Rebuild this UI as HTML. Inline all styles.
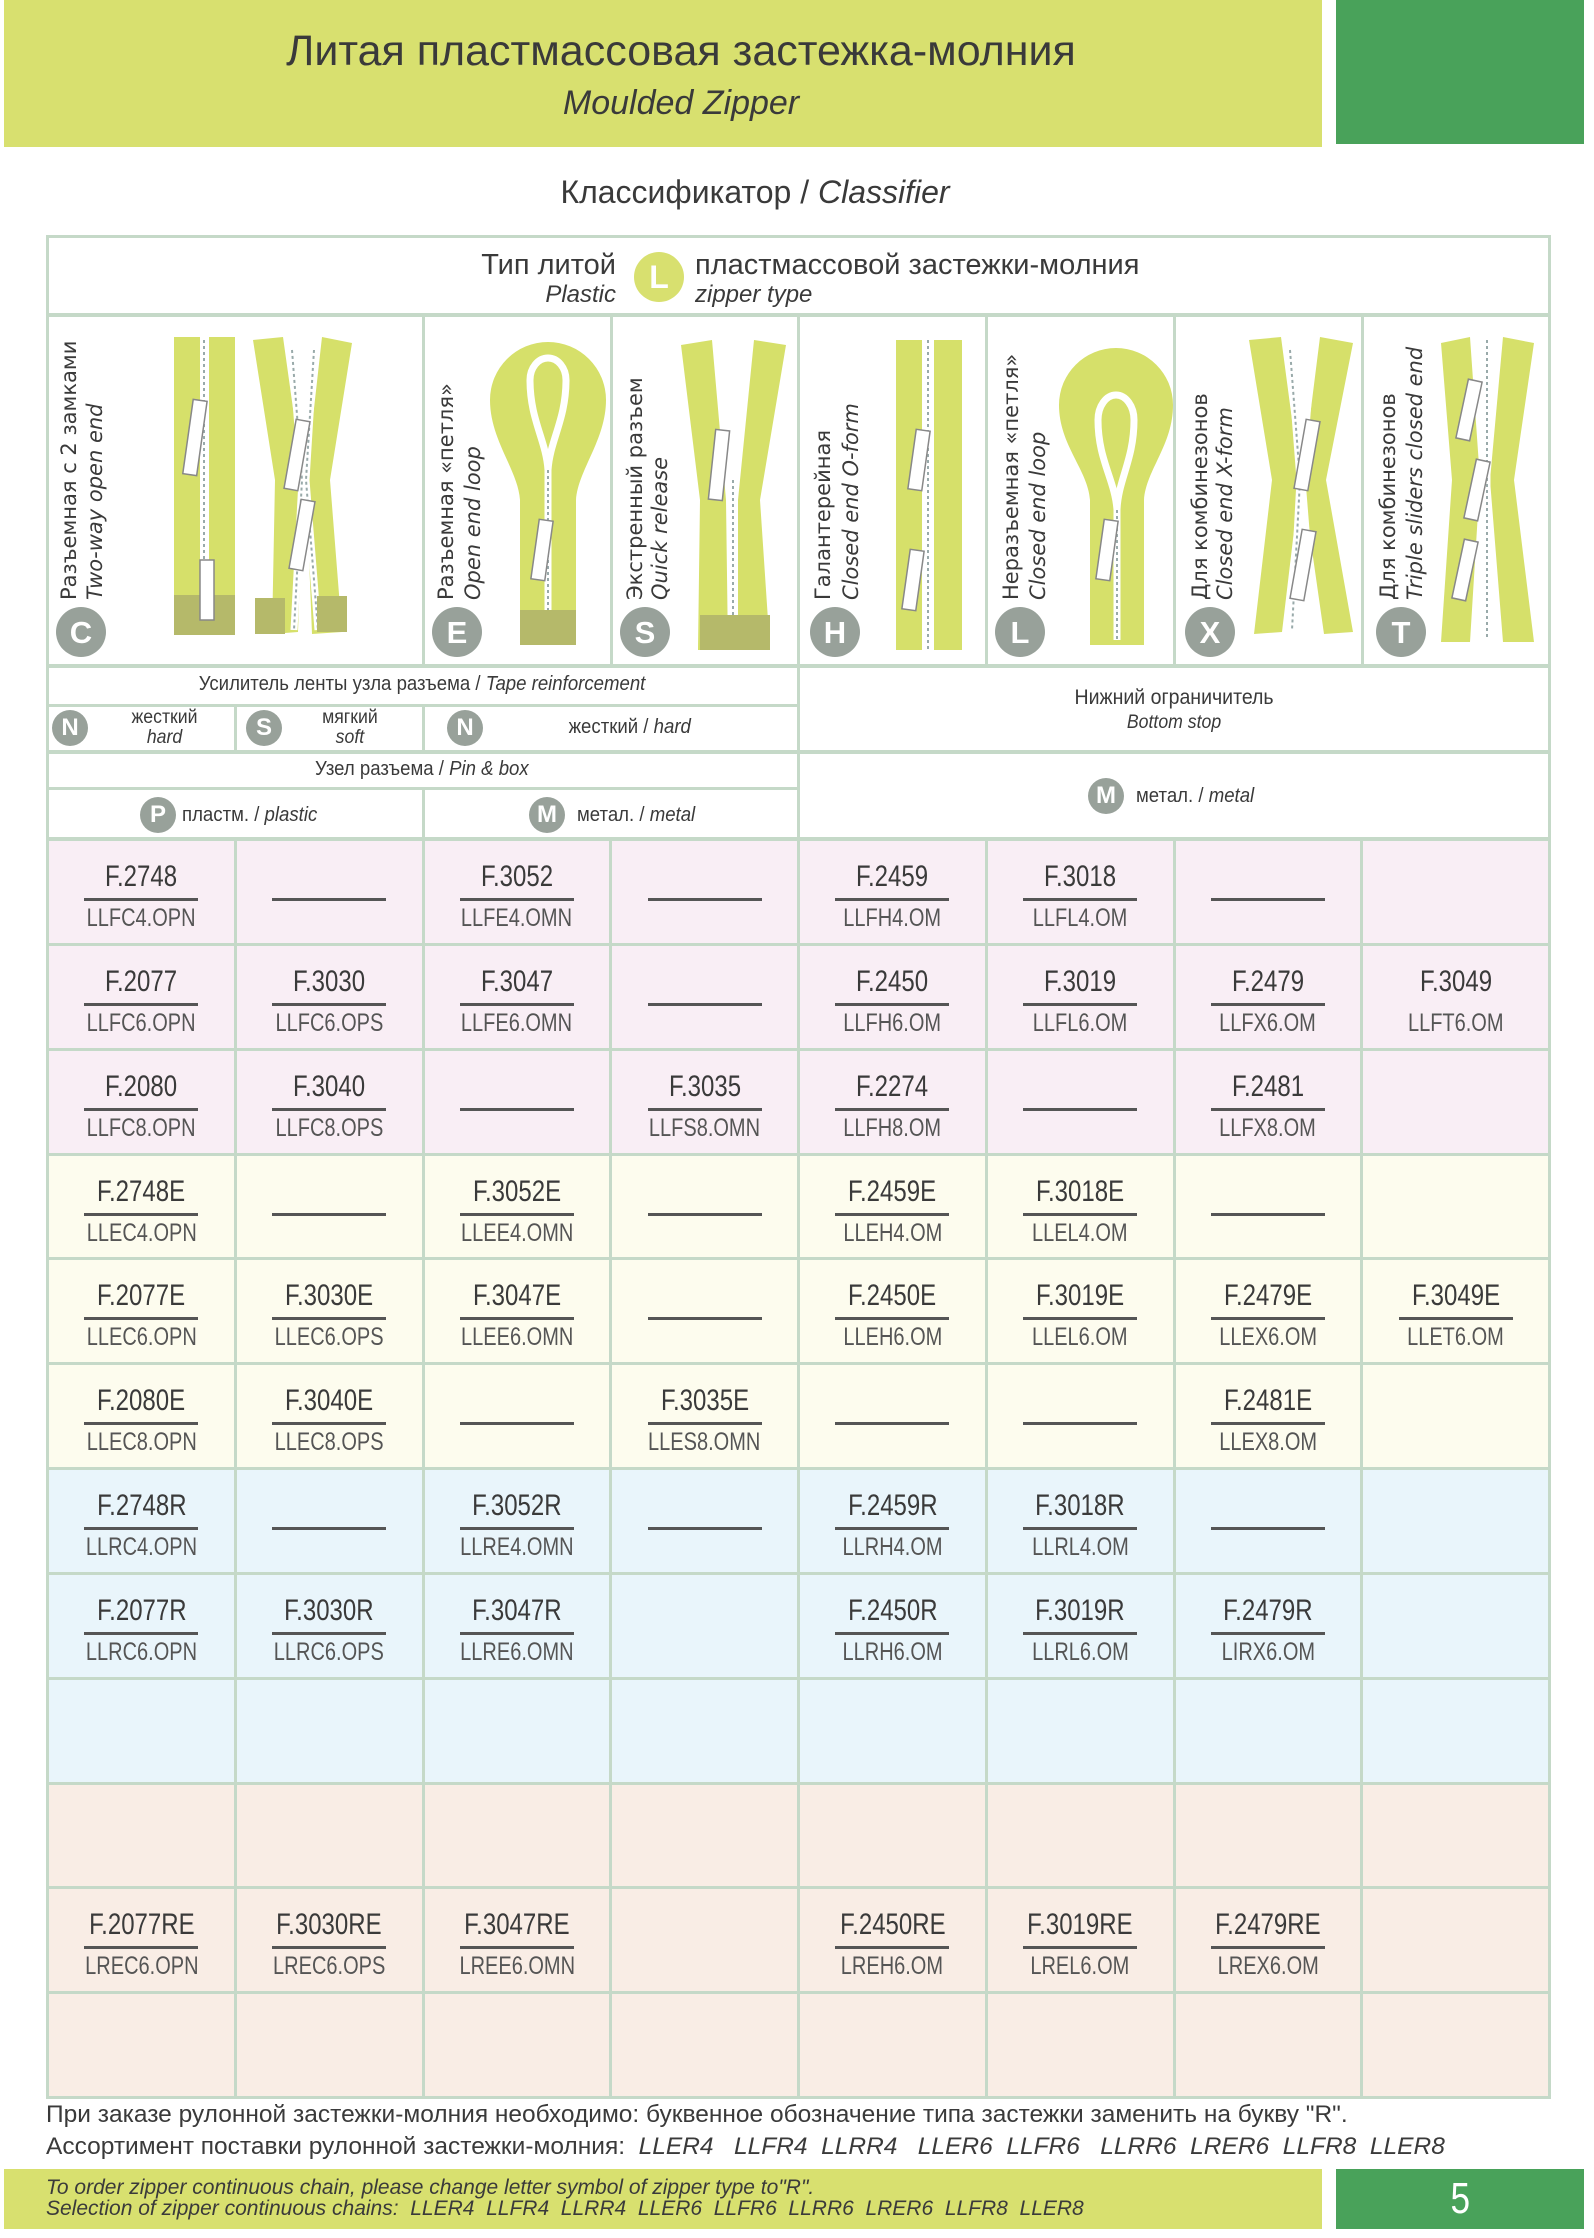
<!DOCTYPE html>
<html><head><meta charset="utf-8">
<style>
*{margin:0;padding:0;box-sizing:border-box}
body{width:1594px;height:2238px;background:#fff;position:relative;overflow:hidden;font-family:"Liberation Sans","DejaVu Sans",sans-serif;color:#3a3a3a}
.a{position:absolute}
.c{display:inline-block;transform:scaleX(.8);transform-origin:center;white-space:nowrap}
.d{display:inline-block;transform:scaleX(.93);transform-origin:center;white-space:nowrap}
.ln{position:absolute;background:#c5d9c8}
.grid{position:absolute;left:46px;top:838px;width:1505px;height:1261px;background:#c5d9c8;display:grid;grid-template-columns:repeat(8,1fr);grid-template-rows:repeat(12,1fr);gap:3px;padding:3px}
.grid>div{position:relative}
.p{background:#f9eef5}.y{background:#fdfcee}.b{background:#e9f5fb}.o{background:#f9ede5}
.k{position:absolute;left:0;right:0;top:20px;text-align:center;font-size:30px;line-height:32px}
.s{position:absolute;left:0;right:0;top:63px;text-align:center;font-size:25px;line-height:28px;color:#555}
.u{position:absolute;left:50%;margin-left:-57px;width:114px;height:3px;top:57px;background:#555}
.badge{position:absolute;width:36px;height:36px;border-radius:50%;background:#98a19a;color:#fff;font-weight:bold;font-size:24px;line-height:36px;text-align:center}
.t{position:absolute;text-align:center;white-space:nowrap}
</style></head><body>
<div class="a" style="left:4px;top:0;width:1318px;height:147px;background:#d8e06f"></div>
<div class="a" style="left:1336px;top:0;width:248px;height:144px;background:#49a25a"></div>
<div class="t" style="left:4px;width:1354px;top:27px;font-size:43px">Литая пластмассовая застежка-молния</div>
<div class="t" style="left:4px;width:1354px;top:84px;font-size:34px;font-style:italic">Moulded Zipper</div>
<div class="t" style="left:46px;width:1418px;top:174px;font-size:32px">Классификатор / <i>Classifier</i></div>

<div class="a" style="left:46px;top:235px;width:1505px;height:605px;border:3px solid #c5d9c8"></div>
<div class="ln" style="left:46px;top:313px;width:1505px;height:4px"></div>
<div class="ln" style="left:46px;top:664px;width:1505px;height:4px"></div>
<div class="ln" style="left:46px;top:704px;width:752px;height:3px"></div>
<div class="ln" style="left:46px;top:750px;width:1505px;height:4px"></div>
<div class="ln" style="left:46px;top:787px;width:752px;height:3px"></div>
<div class="ln" style="left:422px;top:315px;width:3px;height:351px"></div>
<div class="ln" style="left:610px;top:315px;width:3px;height:351px"></div>
<div class="ln" style="left:797px;top:315px;width:3px;height:525px"></div>
<div class="ln" style="left:985px;top:315px;width:3px;height:351px"></div>
<div class="ln" style="left:1173px;top:315px;width:3px;height:351px"></div>
<div class="ln" style="left:1361px;top:315px;width:3px;height:351px"></div>
<div class="ln" style="left:234px;top:705px;width:3px;height:46px"></div>
<div class="ln" style="left:422px;top:705px;width:3px;height:46px"></div>
<div class="ln" style="left:422px;top:788px;width:3px;height:52px"></div>

<div class="a" style="left:300px;width:316px;top:249px;font-size:29px;text-align:right">Тип литой</div>
<div class="a" style="left:300px;width:316px;top:281px;font-size:24px;font-style:italic;text-align:right">Plastic</div>
<div class="a" style="left:634px;top:252px;width:50px;height:50px;border-radius:50%;background:#d8e06f;color:#fff;font-weight:bold;font-size:32px;line-height:50px;text-align:center">L</div>
<div class="a" style="left:695px;top:249px;font-size:29px;white-space:nowrap">пластмассовой застежки-молния</div>
<div class="a" style="left:695px;top:281px;font-size:24px;font-style:italic">zipper type</div>

<svg class="a" style="left:0;top:0" width="1594" height="2238">
<g fill="#d6e06a">
<rect x="174" y="337" width="26" height="298"/><rect x="209" y="337" width="26" height="298"/>
<polygon points="253,340 283,337 303,480 298,632 272,634 275,480"/>
<polygon points="322,337 352,343 330,480 342,632 312,634 306,480"/>
<path d="M490,400 A58,58 0 0 1 606,400 C606,440 578,470 576,500 L576,645 L520,645 L520,500 C518,470 490,440 490,400 Z"/>
<polygon points="681,345 712,340 726,500 728,650 698,650 700,500"/>
<polygon points="754,340 786,345 760,500 770,650 738,650 738,500"/>
<rect x="896" y="340" width="26" height="310"/><rect x="934" y="340" width="28" height="310"/>
<path d="M1059,405 A57,57 0 0 1 1173,405 C1173,445 1146,470 1144,500 L1144,645 L1090,645 L1090,500 C1088,470 1059,445 1059,405 Z"/>
<polygon points="1249,340 1281,337 1300,480 1282,632 1254,634 1272,480"/>
<polygon points="1320,337 1353,343 1326,480 1353,632 1324,634 1302,480"/>
<polygon points="1441,343 1470,337 1480,480 1470,642 1441,642 1452,480"/>
<polygon points="1503,337 1534,343 1514,480 1534,642 1503,642 1490,480"/>
</g>
<g stroke="#fff" stroke-width="7" fill="none">
<line x1="204" y1="340" x2="204" y2="630"/><path d="M292,350 L302,480 L294,630"/><path d="M314,350 L306,480 L318,630"/>
<path d="M530,380 A18,22 0 0 1 566,380 C566,420 550,440 548,470 L548,640"/>
<path d="M530,380 C530,420 546,440 548,470"/>
<path d="M740,350 L733,480 L733,650"/>
<line x1="928" y1="340" x2="928" y2="650"/>
<path d="M1098,420 A18,25 0 0 1 1134,420 C1134,460 1118,480 1117,510 L1117,640"/><path d="M1098,420 C1098,460 1115,480 1117,510"/>
<path d="M1290,350 L1300,480 L1292,630"/><path d="M1312,350 L1302,480 L1314,630"/>
<line x1="1487" y1="340" x2="1487" y2="640"/>
</g>
<g stroke="#9aa" stroke-width="2" stroke-dasharray="3,3" fill="none">
<line x1="204" y1="340" x2="204" y2="630"/><path d="M292,350 L302,480 L294,630"/><path d="M314,350 L306,480 L318,630"/>
<line x1="548" y1="470" x2="548" y2="640"/><line x1="733" y1="480" x2="733" y2="650"/>
<line x1="928" y1="340" x2="928" y2="650"/><line x1="1117" y1="510" x2="1117" y2="640"/>
<path d="M1290,350 L1300,480 L1292,630"/><path d="M1487,340 L1487,640"/>
</g>
<g fill="#b5b96a"><rect x="174" y="595" width="61" height="40"/><rect x="255" y="598" width="30" height="36"/><rect x="317" y="596" width="30" height="36"/><rect x="520" y="610" width="56" height="35"/><rect x="700" y="615" width="70" height="35"/></g>
<g fill="#fff" stroke="#888" stroke-width="1.5">
<rect x="188" y="400" width="14" height="75" transform="rotate(8 195 437)"/><rect x="200" y="560" width="14" height="60"/>
<rect x="290" y="420" width="14" height="70" transform="rotate(10 297 455)"/><rect x="295" y="500" width="14" height="70" transform="rotate(10 302 535)"/>
<rect x="535" y="520" width="14" height="60" transform="rotate(8 542 550)"/><rect x="712" y="430" width="14" height="70" transform="rotate(6 719 465)"/>
<rect x="912" y="430" width="14" height="60" transform="rotate(8 919 460)"/><rect x="906" y="550" width="14" height="60" transform="rotate(8 913 580)"/>
<rect x="1100" y="520" width="14" height="60" transform="rotate(8 1107 550)"/><rect x="1300" y="420" width="14" height="70" transform="rotate(10 1307 455)"/><rect x="1296" y="530" width="14" height="70" transform="rotate(10 1303 565)"/>
<rect x="1462" y="380" width="14" height="60" transform="rotate(12 1469 410)"/><rect x="1470" y="460" width="14" height="60" transform="rotate(12 1477 490)"/><rect x="1458" y="540" width="14" height="60" transform="rotate(12 1465 570)"/>
</g>
<g font-family="DejaVu Sans" font-size="21" fill="#3a3a3a">
<text transform="translate(76,600) rotate(-90)">Разъемная с 2 замками</text><text font-style="italic" transform="translate(102,600) rotate(-90)">Two-way open end</text>
<text transform="translate(453,600) rotate(-90)">Разъемная «петля»</text><text font-style="italic" transform="translate(480,600) rotate(-90)">Open end loop</text>
<text transform="translate(642,600) rotate(-90)">Экстренный разъем</text><text font-style="italic" transform="translate(667,600) rotate(-90)">Quick release</text>
<text transform="translate(830,600) rotate(-90)">Галантерейная</text><text font-style="italic" transform="translate(858,600) rotate(-90)">Closed end O-form</text>
<text transform="translate(1018,600) rotate(-90)">Неразъемная «петля»</text><text font-style="italic" transform="translate(1045,600) rotate(-90)">Closed end loop</text>
<text transform="translate(1207,600) rotate(-90)">Для комбинезонов</text><text font-style="italic" transform="translate(1232,600) rotate(-90)">Closed end X-form</text>
<text transform="translate(1395,600) rotate(-90)">Для комбинезонов</text><text font-style="italic" transform="translate(1422,600) rotate(-90)">Triple sliders closed end</text>
</g>
<g fill="#98a19a"><circle cx="81" cy="632" r="25"/><circle cx="457" cy="632" r="25"/><circle cx="645" cy="632" r="25"/><circle cx="835" cy="632" r="25"/><circle cx="1020" cy="632" r="25"/><circle cx="1210" cy="632" r="25"/><circle cx="1401" cy="632" r="25"/></g>
<g fill="#fff" font-family="Liberation Sans" font-weight="bold" font-size="31" text-anchor="middle">
<text x="81" y="643">C</text><text x="457" y="643">E</text><text x="645" y="643">S</text><text x="835" y="643">H</text><text x="1020" y="643">L</text><text x="1210" y="643">X</text><text x="1401" y="643">T</text></g>
</svg>

<div class="t" style="left:46px;width:752px;top:673px;font-size:20px"><span class="d">Усилитель ленты узла разъема / <i>Tape reinforcement</i></span></div>
<div class="badge" style="left:52px;top:710px">N</div>
<div class="t" style="left:120px;width:90px;top:708px;font-size:19px;line-height:20px"><span class="d">жесткий<br><i>hard</i></span></div>
<div class="badge" style="left:246px;top:710px">S</div>
<div class="t" style="left:305px;width:90px;top:708px;font-size:19px;line-height:20px"><span class="d">мягкий<br><i>soft</i></span></div>
<div class="badge" style="left:447px;top:710px">N</div>
<div class="t" style="left:530px;width:200px;top:716px;font-size:20px"><span class="d">жесткий / <i>hard</i></span></div>
<div class="t" style="left:46px;width:752px;top:758px;font-size:20px"><span class="d">Узел разъема / <i>Pin &amp; box</i></span></div>
<div class="badge" style="left:140px;top:797px">P</div>
<div class="t" style="left:182px;width:160px;top:804px;font-size:20px;text-align:left"><span class="d" style="transform-origin:left">пластм. / <i>plastic</i></span></div>
<div class="badge" style="left:529px;top:797px">M</div>
<div class="t" style="left:577px;width:160px;top:804px;font-size:20px;text-align:left"><span class="d" style="transform-origin:left">метал. / <i>metal</i></span></div>
<div class="t" style="left:798px;width:753px;top:686px;font-size:21px;line-height:24px"><span class="d">Нижний ограничитель<br><i style="font-size:19px">Bottom stop</i></span></div>
<div class="badge" style="left:1088px;top:778px">M</div>
<div class="t" style="left:1136px;width:160px;top:785px;font-size:20px;text-align:left"><span class="d" style="transform-origin:left">метал. / <i>metal</i></span></div>

<div class="grid">
<div class="p"><div class="k"><span class="c">F.2748</span></div><div class="u"></div><div class="s"><span class="c">LLFC4.OPN</span></div></div>
<div class="p"><div class="u"></div></div>
<div class="p"><div class="k"><span class="c">F.3052</span></div><div class="u"></div><div class="s"><span class="c">LLFE4.OMN</span></div></div>
<div class="p"><div class="u"></div></div>
<div class="p"><div class="k"><span class="c">F.2459</span></div><div class="u"></div><div class="s"><span class="c">LLFH4.OM</span></div></div>
<div class="p"><div class="k"><span class="c">F.3018</span></div><div class="u"></div><div class="s"><span class="c">LLFL4.OM</span></div></div>
<div class="p"><div class="u"></div></div>
<div class="p"></div>

<div class="p"><div class="k"><span class="c">F.2077</span></div><div class="u"></div><div class="s"><span class="c">LLFC6.OPN</span></div></div>
<div class="p"><div class="k"><span class="c">F.3030</span></div><div class="u"></div><div class="s"><span class="c">LLFC6.OPS</span></div></div>
<div class="p"><div class="k"><span class="c">F.3047</span></div><div class="u"></div><div class="s"><span class="c">LLFE6.OMN</span></div></div>
<div class="p"><div class="u"></div></div>
<div class="p"><div class="k"><span class="c">F.2450</span></div><div class="u"></div><div class="s"><span class="c">LLFH6.OM</span></div></div>
<div class="p"><div class="k"><span class="c">F.3019</span></div><div class="u"></div><div class="s"><span class="c">LLFL6.OM</span></div></div>
<div class="p"><div class="k"><span class="c">F.2479</span></div><div class="u"></div><div class="s"><span class="c">LLFX6.OM</span></div></div>
<div class="p"><div class="k"><span class="c">F.3049</span></div><div class="s"><span class="c">LLFT6.OM</span></div></div>

<div class="p"><div class="k"><span class="c">F.2080</span></div><div class="u"></div><div class="s"><span class="c">LLFC8.OPN</span></div></div>
<div class="p"><div class="k"><span class="c">F.3040</span></div><div class="u"></div><div class="s"><span class="c">LLFC8.OPS</span></div></div>
<div class="p"><div class="u"></div></div>
<div class="p"><div class="k"><span class="c">F.3035</span></div><div class="u"></div><div class="s"><span class="c">LLFS8.OMN</span></div></div>
<div class="p"><div class="k"><span class="c">F.2274</span></div><div class="u"></div><div class="s"><span class="c">LLFH8.OM</span></div></div>
<div class="p"><div class="u"></div></div>
<div class="p"><div class="k"><span class="c">F.2481</span></div><div class="u"></div><div class="s"><span class="c">LLFX8.OM</span></div></div>
<div class="p"></div>

<div class="y"><div class="k"><span class="c">F.2748E</span></div><div class="u"></div><div class="s"><span class="c">LLEC4.OPN</span></div></div>
<div class="y"><div class="u"></div></div>
<div class="y"><div class="k"><span class="c">F.3052E</span></div><div class="u"></div><div class="s"><span class="c">LLEE4.OMN</span></div></div>
<div class="y"><div class="u"></div></div>
<div class="y"><div class="k"><span class="c">F.2459E</span></div><div class="u"></div><div class="s"><span class="c">LLEH4.OM</span></div></div>
<div class="y"><div class="k"><span class="c">F.3018E</span></div><div class="u"></div><div class="s"><span class="c">LLEL4.OM</span></div></div>
<div class="y"><div class="u"></div></div>
<div class="y"></div>

<div class="y"><div class="k"><span class="c">F.2077E</span></div><div class="u"></div><div class="s"><span class="c">LLEC6.OPN</span></div></div>
<div class="y"><div class="k"><span class="c">F.3030E</span></div><div class="u"></div><div class="s"><span class="c">LLEC6.OPS</span></div></div>
<div class="y"><div class="k"><span class="c">F.3047E</span></div><div class="u"></div><div class="s"><span class="c">LLEE6.OMN</span></div></div>
<div class="y"><div class="u"></div></div>
<div class="y"><div class="k"><span class="c">F.2450E</span></div><div class="u"></div><div class="s"><span class="c">LLEH6.OM</span></div></div>
<div class="y"><div class="k"><span class="c">F.3019E</span></div><div class="u"></div><div class="s"><span class="c">LLEL6.OM</span></div></div>
<div class="y"><div class="k"><span class="c">F.2479E</span></div><div class="u"></div><div class="s"><span class="c">LLEX6.OM</span></div></div>
<div class="y"><div class="k"><span class="c">F.3049E</span></div><div class="u"></div><div class="s"><span class="c">LLET6.OM</span></div></div>

<div class="y"><div class="k"><span class="c">F.2080E</span></div><div class="u"></div><div class="s"><span class="c">LLEC8.OPN</span></div></div>
<div class="y"><div class="k"><span class="c">F.3040E</span></div><div class="u"></div><div class="s"><span class="c">LLEC8.OPS</span></div></div>
<div class="y"><div class="u"></div></div>
<div class="y"><div class="k"><span class="c">F.3035E</span></div><div class="u"></div><div class="s"><span class="c">LLES8.OMN</span></div></div>
<div class="y"><div class="u"></div></div>
<div class="y"><div class="u"></div></div>
<div class="y"><div class="k"><span class="c">F.2481E</span></div><div class="u"></div><div class="s"><span class="c">LLEX8.OM</span></div></div>
<div class="y"></div>

<div class="b"><div class="k"><span class="c">F.2748R</span></div><div class="u"></div><div class="s"><span class="c">LLRC4.OPN</span></div></div>
<div class="b"><div class="u"></div></div>
<div class="b"><div class="k"><span class="c">F.3052R</span></div><div class="u"></div><div class="s"><span class="c">LLRE4.OMN</span></div></div>
<div class="b"><div class="u"></div></div>
<div class="b"><div class="k"><span class="c">F.2459R</span></div><div class="u"></div><div class="s"><span class="c">LLRH4.OM</span></div></div>
<div class="b"><div class="k"><span class="c">F.3018R</span></div><div class="u"></div><div class="s"><span class="c">LLRL4.OM</span></div></div>
<div class="b"><div class="u"></div></div>
<div class="b"></div>

<div class="b"><div class="k"><span class="c">F.2077R</span></div><div class="u"></div><div class="s"><span class="c">LLRC6.OPN</span></div></div>
<div class="b"><div class="k"><span class="c">F.3030R</span></div><div class="u"></div><div class="s"><span class="c">LLRC6.OPS</span></div></div>
<div class="b"><div class="k"><span class="c">F.3047R</span></div><div class="u"></div><div class="s"><span class="c">LLRE6.OMN</span></div></div>
<div class="b"></div>
<div class="b"><div class="k"><span class="c">F.2450R</span></div><div class="u"></div><div class="s"><span class="c">LLRH6.OM</span></div></div>
<div class="b"><div class="k"><span class="c">F.3019R</span></div><div class="u"></div><div class="s"><span class="c">LLRL6.OM</span></div></div>
<div class="b"><div class="k"><span class="c">F.2479R</span></div><div class="u"></div><div class="s"><span class="c">LIRX6.OM</span></div></div>
<div class="b"></div>

<div class="b"></div><div class="b"></div><div class="b"></div><div class="b"></div><div class="b"></div><div class="b"></div><div class="b"></div><div class="b"></div>
<div class="o"></div><div class="o"></div><div class="o"></div><div class="o"></div><div class="o"></div><div class="o"></div><div class="o"></div><div class="o"></div>

<div class="o"><div class="k"><span class="c">F.2077RE</span></div><div class="u"></div><div class="s"><span class="c">LREC6.OPN</span></div></div>
<div class="o"><div class="k"><span class="c">F.3030RE</span></div><div class="u"></div><div class="s"><span class="c">LREC6.OPS</span></div></div>
<div class="o"><div class="k"><span class="c">F.3047RE</span></div><div class="u"></div><div class="s"><span class="c">LREE6.OMN</span></div></div>
<div class="o"></div>
<div class="o"><div class="k"><span class="c">F.2450RE</span></div><div class="u"></div><div class="s"><span class="c">LREH6.OM</span></div></div>
<div class="o"><div class="k"><span class="c">F.3019RE</span></div><div class="u"></div><div class="s"><span class="c">LREL6.OM</span></div></div>
<div class="o"><div class="k"><span class="c">F.2479RE</span></div><div class="u"></div><div class="s"><span class="c">LREX6.OM</span></div></div>
<div class="o"></div>

<div class="o"></div><div class="o"></div><div class="o"></div><div class="o"></div><div class="o"></div><div class="o"></div><div class="o"></div><div class="o"></div>
</div>

<div class="a" style="left:46px;top:2101px;font-size:24.5px;white-space:nowrap">При заказе рулонной застежки-молния необходимо: буквенное обозначение типа застежки заменить на букву "R".</div>
<div class="a" style="left:46px;top:2133px;font-size:24.5px;white-space:nowrap">Ассортимент поставки рулонной застежки-молния: &nbsp;<i>LLER4 &nbsp; LLFR4 &nbsp;LLRR4 &nbsp; LLER6 &nbsp;LLFR6 &nbsp; LLRR6 &nbsp;LRER6 &nbsp;LLFR8 &nbsp;LLER8</i></div>
<div class="a" style="left:4px;top:2169px;width:1318px;height:60px;background:#d8e06f"></div>
<div class="a" style="left:1336px;top:2169px;width:248px;height:60px;background:#49a25a"></div>
<div class="a" style="left:46px;top:2177px;font-size:21px;line-height:21px;font-style:italic;white-space:nowrap">To order zipper continuous chain, please change letter symbol of zipper type to"R".<br>Selection of zipper continuous chains: &nbsp;LLER4 &nbsp;LLFR4 &nbsp;LLRR4 &nbsp;LLER6 &nbsp;LLFR6 &nbsp;LLRR6 &nbsp;LRER6 &nbsp;LLFR8 &nbsp;LLER8</div>
<div class="t" style="left:1336px;width:248px;top:2174px;font-size:44px;color:#fff"><span class="c">5</span></div>
</body></html>
